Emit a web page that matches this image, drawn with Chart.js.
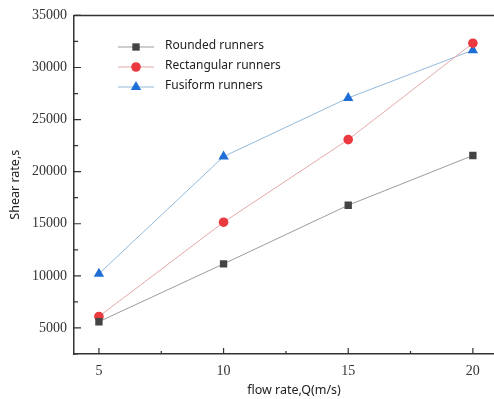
<!DOCTYPE html>
<html>
<head>
<meta charset="utf-8">
<script src="https://cdn.jsdelivr.net/npm/chart.js@4.4.1/dist/chart.umd.min.js"></script>
<style>
  html, body { margin: 0; padding: 0; background: #fff; overflow: hidden; }
  #wrap { position: relative; width: 494px; height: 399px; overflow: hidden; }
</style>
</head>
<body>
<div id="wrap"><canvas id="chart" width="520" height="399"></canvas></div>
<script>
const flowRates = [5, 10, 15, 20];
const roundedRunners = [5600, 11150, 16780, 21550];
const rectangularRunners = [6100, 15150, 23080, 32330];
const fusiformRunners = [10200, 21450, 27080, 31660];
const seriesNames = ['Rounded runners', 'Rectangular runners', 'Fusiform runners'];
const xTicks = [5, 10, 15, 20];
const yTicks = [5000, 10000, 15000, 20000, 25000, 30000, 35000];

const axisColor = '#333';
const tickFont = { family: 'Liberation Serif', size: 14 };
const labelFont = { family: 'Noto Sans', size: 12 };
const titleFont = { family: 'Noto Sans', size: 12.5 };

// inward major/minor ticks, top frame line, legend inside plot area
const framePlugin = {
    id: 'frame',
    afterDraw(chart) {
        const ctx = chart.ctx;
        const area = chart.chartArea;
        const xs = chart.scales.x;
        const ys = chart.scales.y;
        ctx.save();
        ctx.strokeStyle = axisColor;
        ctx.lineWidth = 1.5;
        ctx.beginPath();
        ctx.moveTo(area.left, area.top);
        ctx.lineTo(area.right, area.top);
        ctx.stroke();

        ctx.lineWidth = 1.2;
        ctx.beginPath();
        yTicks.forEach(v => {
            const y = ys.getPixelForValue(v);
            ctx.moveTo(area.left, y); ctx.lineTo(area.left + 7, y);
            const m = ys.getPixelForValue(v - 2500);
            ctx.moveTo(area.left, m); ctx.lineTo(area.left + 4, m);
        });
        xTicks.forEach(v => {
            const x = xs.getPixelForValue(v);
            ctx.moveTo(x, area.bottom); ctx.lineTo(x, area.bottom - 6);
            const m = xs.getPixelForValue(v + 2.5);
            if (m < area.right) { ctx.moveTo(m, area.bottom); ctx.lineTo(m, area.bottom - 3); }
        });
        ctx.stroke();

        // legend
        const lx = 118, ly = 47, step = 20;
        chart.data.datasets.forEach((ds, i) => {
            const y = ly + i * step;
            ctx.strokeStyle = ds.borderColor;
            ctx.lineWidth = 1;
            ctx.beginPath();
            ctx.moveTo(lx, y); ctx.lineTo(lx + 36, y);
            ctx.stroke();
            ctx.fillStyle = ds.pointBackgroundColor;
            ctx.strokeStyle = ds.pointBackgroundColor;
            Chart.helpers.drawPoint(ctx, {
                pointStyle: ds.pointStyle, radius: ds.pointRadius, rotation: 0, borderWidth: 0
            }, lx + 18, y);
            ctx.fillStyle = '#222';
            ctx.font = labelFont.size + 'px ' + labelFont.family;
            ctx.textBaseline = 'middle';
            ctx.textAlign = 'left';
            ctx.fillText(ds.label, lx + 47, y - 1);
        });
        ctx.restore();
    }
};

function makeSeries(label, data, line, marker, style, r) {
    return {
        label: label,
        data: data,
        borderColor: line,
        borderWidth: 1,
        pointStyle: style,
        pointRadius: r,
        pointBackgroundColor: marker,
        pointBorderColor: marker,
        pointBorderWidth: 0,
        tension: 0
    };
}

new Chart(document.getElementById('chart'), {
    type: 'line',
    data: {
        labels: flowRates,
        datasets: [
            makeSeries(seriesNames[0], flowRates.map((x, i) => ({ x: x, y: roundedRunners[i] })), '#9c9c9c', '#444444', 'rect', 5.2),
            makeSeries(seriesNames[1], flowRates.map((x, i) => ({ x: x, y: rectangularRunners[i] })), '#e4a9a9', '#ea3a40', 'circle', 4.8),
            makeSeries(seriesNames[2], flowRates.map((x, i) => ({ x: x, y: fusiformRunners[i] })), '#93b9da', '#1f6ed6', 'triangle', 6)
        ]
    },
    options: {
        responsive: false,
        animation: false,
        layout: { padding: { top: 13, right: 4, left: 0, bottom: 0 } },
        plugins: { legend: { display: false }, tooltip: { enabled: false } },
        scales: {
            x: {
                type: 'linear',
                min: 4,
                max: 21.65,
                grid: { display: false, drawTicks: false, tickLength: 0 },
                border: { display: true, color: axisColor, width: 1.5 },
                afterBuildTicks: s => { s.ticks = xTicks.map(v => ({ value: v })); },
                afterFit: s => { s.height = 45; },
                ticks: { font: tickFont, color: '#333', padding: 9, maxRotation: 0, callback: v => String(v) },
                title: { display: true, text: 'flow rate,Q(m/s)', font: titleFont, color: '#222', padding: { top: 8, bottom: 1 } }
            },
            y: {
                type: 'linear',
                min: 2500,
                max: 35000,
                grid: { display: false, drawTicks: false, tickLength: 0 },
                border: { display: true, color: axisColor, width: 1.5 },
                afterBuildTicks: s => { s.ticks = yTicks.map(v => ({ value: v })); },
                afterFit: s => { s.width = 74; },
                ticks: { font: tickFont, color: '#333', padding: 7, callback: v => String(v) },
                title: { display: true, text: 'Shear rate,s', font: titleFont, color: '#222', padding: { top: 8, bottom: 0 } }
            }
        }
    },
    plugins: [framePlugin]
});
</script>
</body>
</html>
